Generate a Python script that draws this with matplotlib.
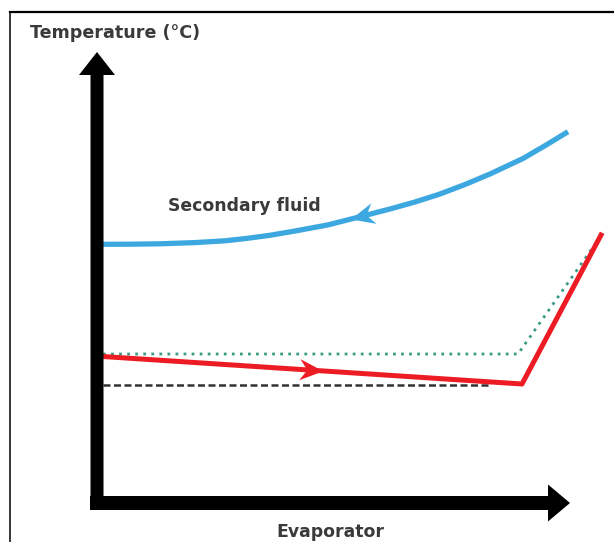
import matplotlib.pyplot as plt
import numpy as np
from matplotlib.patches import FancyArrow
from matplotlib.markers import MarkerStyle
from matplotlib.path import Path
from matplotlib.transforms import Affine2D

# schematic values, origin at the corner of the two axes (arbitrary units)
secondary_x = [5, 33, 63, 98, 128, 148, 173, 198, 231, 258, 293, 318, 343, 368, 393, 426, 450, 471]
secondary_t = [258.7, 258.8, 259.2, 260.4, 262.2, 264.4, 267.7, 272, 278.1, 285, 294, 301,
               309, 318.5, 329, 344.5, 358.5, 371.3]

refrigerant_x = [6, 425, 504]
refrigerant_t = [146.5, 119, 268]

saturation_x = [6, 421, 501]
saturation_t = [149, 149, 263]

evap_temp_x = [6, 392]
evap_temp_t = [118, 118]

label_y = 'Temperature (°C)'
label_x = 'Evaporator'
label_fluid = 'Secondary fluid'

text_col = '#3a3a3a'

fig = plt.figure(figsize=(6.14, 5.42), dpi=100)
ax = fig.add_axes([0, 0, 1, 1])
ax.set_xlim(-97, 517)
ax.set_ylim(-39, 503)
ax.axis('off')

# frame (cropped at right and bottom)
ax.plot([-87, 517], [491, 491], color='black', lw=1.6, clip_on=False)
ax.plot([-87, -87], [491, -39], color='black', lw=1.1, clip_on=False)

# curves
ax.plot(secondary_x, secondary_t, color='#3da8e0', lw=3.8, solid_capstyle='butt',
        solid_joinstyle='round', zorder=3)
ax.plot(saturation_x, saturation_t, color='#3a9a85', lw=2, linestyle=(0, (1, 1.9)), zorder=2)
ax.plot(evap_temp_x, evap_temp_t, color='#333333', lw=1.8, linestyle=(0, (2.8, 1.4)), zorder=2)
ax.plot(refrigerant_x, refrigerant_t, color='#ed1c24', lw=3.6, zorder=3)

# flow direction heads
head = Path([(1, 0), (-1, 0.9), (-0.35, 0), (-1, -0.9), (1, 0)],
            [Path.MOVETO, Path.LINETO, Path.LINETO, Path.LINETO, Path.CLOSEPOLY])


def flow_head(xs, ts, xpos, direction, color, size):
    tpos = np.interp(xpos, xs, ts)
    slope = (np.interp(xpos + 5, xs, ts) - np.interp(xpos - 5, xs, ts)) / 10
    ang = np.degrees(np.arctan(slope)) + (180 if direction < 0 else 0)
    m = MarkerStyle(head, transform=Affine2D().rotate_deg(ang))
    ax.plot([xpos], [tpos], marker=m, markersize=size, color=color,
            markeredgewidth=0, linestyle='none', zorder=4)


flow_head(refrigerant_x, refrigerant_t, 214, 1, '#ed1c24', 17)
flow_head(secondary_x, secondary_t, 265, -1, '#3da8e0', 17)

# axes arrows
ax.add_patch(FancyArrow(0, -7, 0, 458, width=13, head_width=36, head_length=23,
                        length_includes_head=True, color='black', lw=0, zorder=5))
ax.add_patch(FancyArrow(-7, 0, 480, 0, width=14, head_width=37, head_length=22,
                        length_includes_head=True, color='black', lw=0, zorder=5))

ax.text(-67, 470, label_y, fontsize=12.6, fontweight='bold', color=text_col,
        ha='left', va='center')
ax.text(233, -29, label_x, fontsize=12.4, fontweight='bold', color=text_col,
        ha='center', va='center')
ax.text(147, 297, label_fluid, fontsize=12.4, fontweight='bold', color=text_col,
        ha='center', va='center')

fig.savefig('out.png', dpi=100, facecolor='white')
